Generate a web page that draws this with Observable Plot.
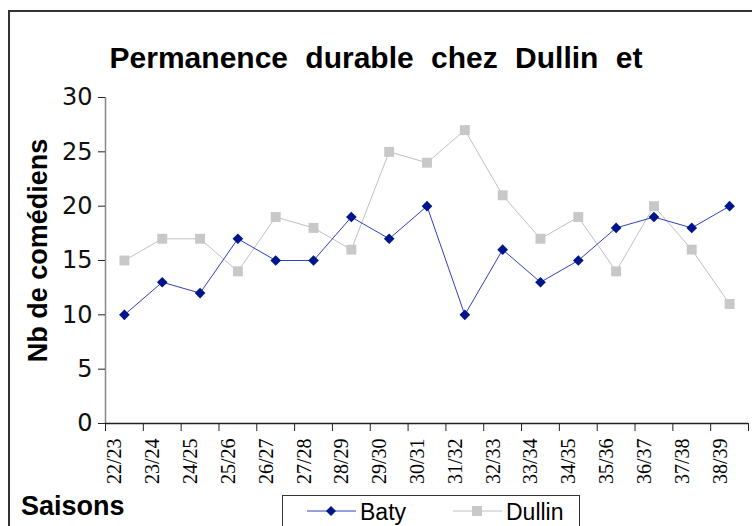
<!DOCTYPE html>
<html><head><meta charset="utf-8">
<script src="https://cdn.jsdelivr.net/npm/d3@7"></script>
<script src="https://cdn.jsdelivr.net/npm/@observablehq/plot@0.6"></script>
<style>
html,body{margin:0;padding:0;background:#fff;overflow:hidden;width:752px;height:526px;}
#wrap{position:relative;width:752px;height:526px;}
#border{position:absolute;left:8px;top:10px;width:800px;height:600px;border:2px solid #333;box-sizing:border-box;}
#chart{position:absolute;left:0;top:0;}
#title{position:absolute;left:0;top:43px;width:752px;text-align:center;font:bold 30px "Liberation Sans",Arial,sans-serif;word-spacing:9px;line-height:30px;color:#000;}
#xlab{position:absolute;left:21px;top:491px;font:bold 27px "Liberation Sans",Arial,sans-serif;line-height:30px;color:#000;}
#legend{position:absolute;left:282px;top:495px;width:298px;height:60px;border:1.5px solid #333;box-sizing:border-box;background:#fff;}
.li{position:absolute;top:0;height:30px;font:23px "Liberation Sans",Arial,sans-serif;line-height:30px;color:#000;}
.li svg{position:absolute;top:0;left:0;}
.li span{position:absolute;top:1px;}
</style></head>
<body><div id="wrap">
<div id="border"></div>
<div id="chart"></div>
<div id="title"></div>
<div id="xlab"></div>
<div id="legend"></div>
</div>
<script>
const seasons = ["22/23","23/24","24/25","25/26","26/27","27/28","28/29","29/30","30/31","31/32","32/33","33/34","34/35","35/36","36/37","37/38","38/39"];
const baty = [10,13,12,17,15,15,19,17,20,10,16,13,15,18,19,18,20];
const dullin = [15,17,17,14,19,18,16,25,24,27,21,17,19,14,20,16,11];
const yTicks = [0,5,10,15,20,25,30];
const titleText = "Permanence durable chez Dullin et";
const yLabel = "Nb de comédiens";
const xLabel = "Saisons";
const seriesNames = ["Baty","Dullin"];

const batyColor = "#00148c", batyLine = "#3040c0";
const dullinColor = "#c8c8c8", dullinLine = "#c0c0c0";

const bData = baty.map((v,i)=>({i:i+0.5, v}));
const dData = dullin.map((v,i)=>({i:i+0.5, v}));
const labData = seasons.map((s,i)=>({i:i+0.5, s}));

const plot = Plot.plot({
  width: 752, height: 526,
  marginLeft: 105, marginRight: 4, marginTop: 97, marginBottom: 103,
  style: {background: "transparent", overflow: "visible"},
  x: {type: "linear", domain: [0, seasons.length]},
  y: {domain: [0, 30]},
  marks: [
    Plot.ruleX([0], {stroke: "#888", strokeWidth: 1.5}),
    Plot.ruleY([0], {stroke: "#222", strokeWidth: 1.5}),
    Plot.axisY({ticks: yTicks, tickSize: 7, tickPadding: 6, fontSize: 24, fontFamily: "DejaVu Sans, sans-serif", label: null, stroke: "#222", color: "#111"}),
    Plot.axisX({ticks: d3.range(seasons.length + 1), tickSize: 8, tickFormat: () => "", label: null, stroke: "#222"}),
    Plot.text(labData, {x: "i", text: "s", frameAnchor: "bottom", rotate: -90, textAnchor: "end", dy: 15, dx: -3, fontSize: 20, fontFamily: "Liberation Serif, Times New Roman, serif", fill: "#000"}),
    Plot.text([yLabel], {text: d => d, frameAnchor: "left", textAnchor: "middle", rotate: -90, dx: -67, dy: -10, fontSize: 27, fontWeight: "bold", fontFamily: "Liberation Sans, Arial, sans-serif", fill: "#000", style: "word-spacing:8px"}),
    Plot.line(dData, {x: "i", y: "v", stroke: dullinLine, strokeWidth: 1}),
    Plot.dot(dData, {x: "i", y: "v", symbol: "square", r: 5.6, fill: dullinColor, stroke: "none"}),
    Plot.line(bData, {x: "i", y: "v", stroke: batyLine, strokeWidth: 1}),
    Plot.dot(bData, {x: "i", y: "v", symbol: "diamond2", r: 4.8, fill: batyColor, stroke: "none"})
  ]
});
document.getElementById("chart").appendChild(plot);
document.getElementById("title").textContent = titleText;
document.getElementById("xlab").textContent = xLabel;

const leg = document.getElementById("legend");
const items = [
  {name: seriesNames[0], left: 24, line: batyLine, fill: batyColor, shape: "diamond"},
  {name: seriesNames[1], left: 170, line: dullinLine, fill: dullinColor, shape: "square"}
];
items.forEach(it => {
  const d = document.createElement("div");
  d.className = "li";
  d.style.left = it.left + "px";
  d.style.width = "130px";
  const m = it.shape === "diamond"
    ? `<path d="M24,10 L29,15 L24,20 L19,15 Z" fill="${it.fill}"/>`
    : `<rect x="19" y="10" width="10" height="10" fill="${it.fill}"/>`;
  d.innerHTML = `<svg width="50" height="30"><line x1="0" y1="15" x2="49" y2="15" stroke="${it.line}" stroke-width="1"/>${m}</svg><span style="left:53px">${it.name}</span>`;
  leg.appendChild(d);
});
</script>
</body></html>
